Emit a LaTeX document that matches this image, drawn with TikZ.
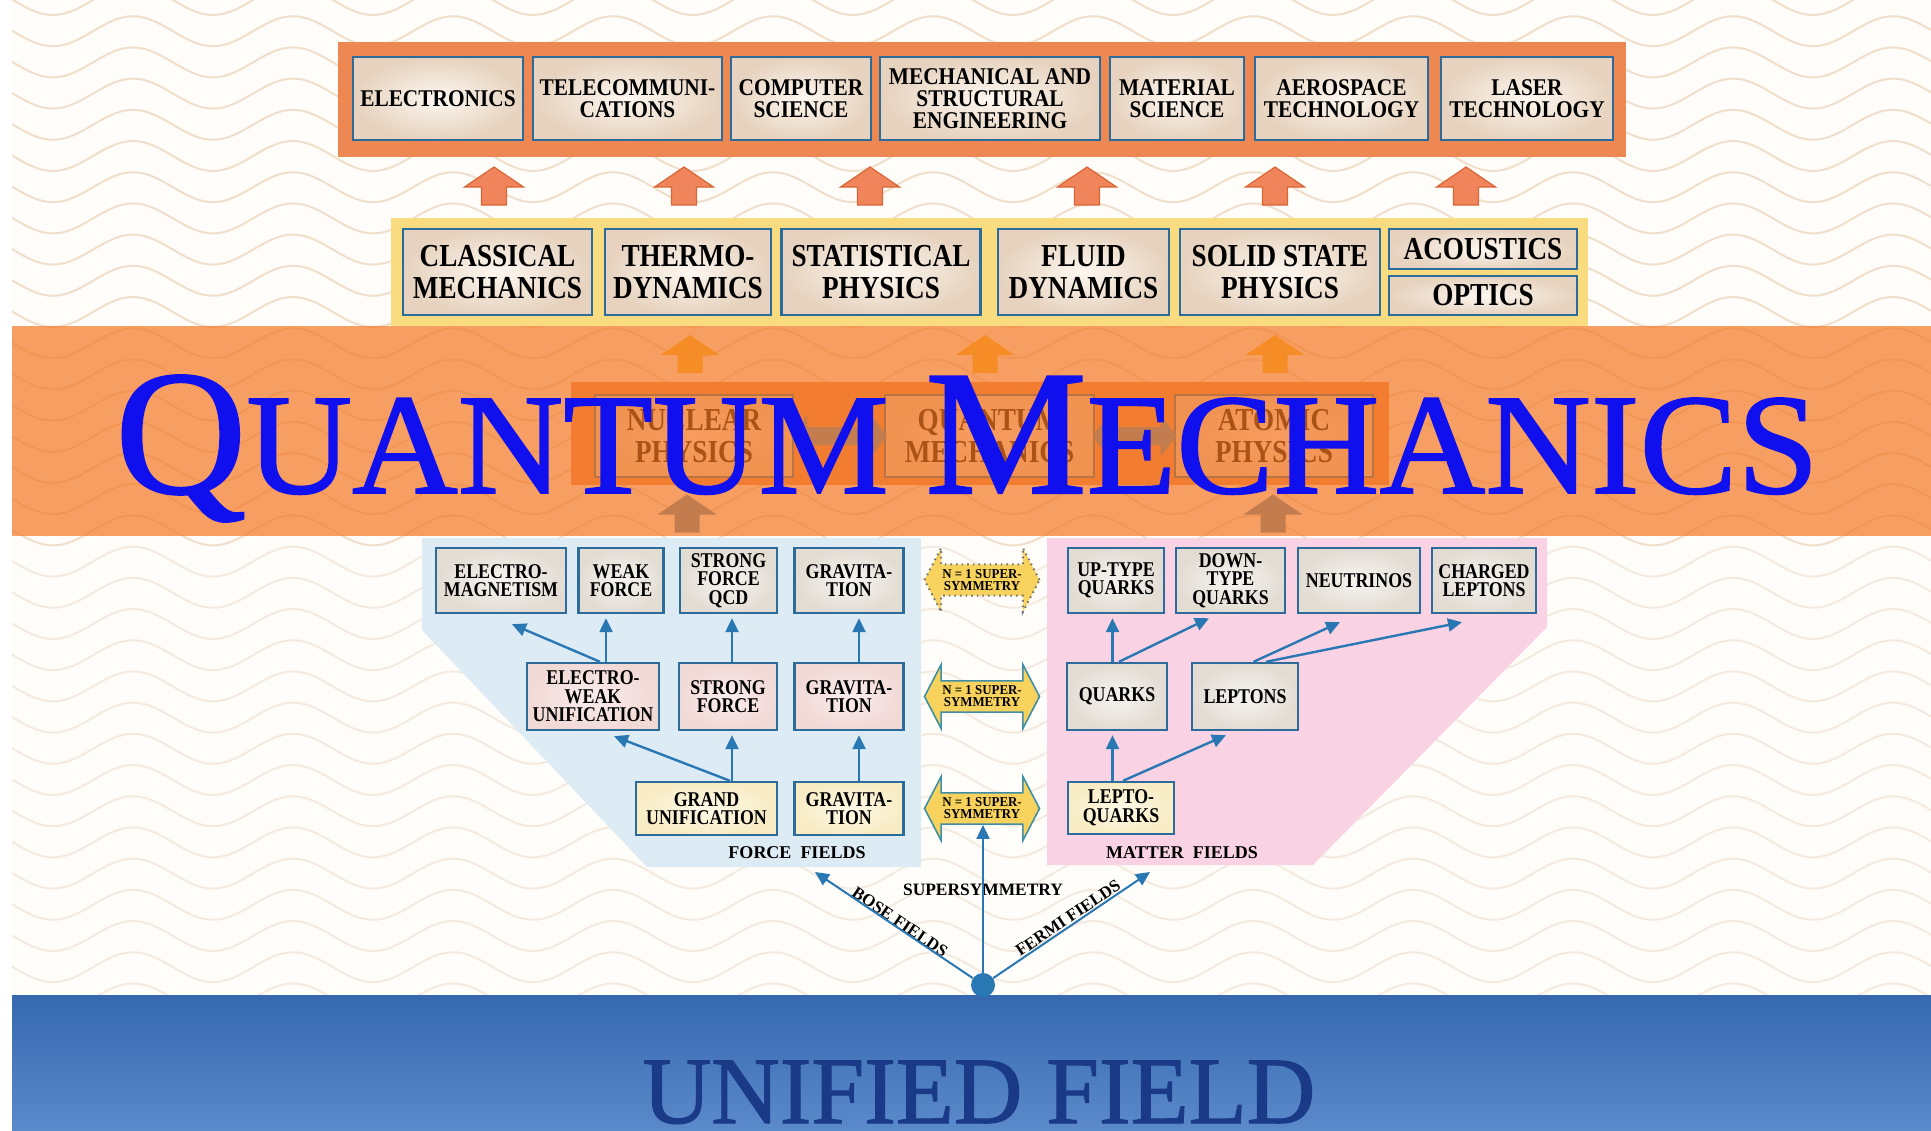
\documentclass[tikz,border=0pt]{standalone}
\usepackage{fontspec}
\setmainfont{Liberation Serif}
\newfontfamily\labA[FakeStretch=0.89]{Liberation Serif}
\newfontfamily\labB[FakeStretch=0.85]{Liberation Serif}
\newfontfamily\labS[FakeStretch=0.95]{Liberation Serif}
\newfontfamily\titlefont[FakeBold=1.2]{Liberation Serif}
\usetikzlibrary{shapes.arrows,arrows.meta,calc}

\definecolor{bgcol}{HTML}{FFFDFA}
\definecolor{wavecol}{HTML}{EFDFCB}
\definecolor{wavelight}{HTML}{F4EADF}
\definecolor{topor}{HTML}{EE8853}
\definecolor{upfill}{HTML}{F0845A}
\definecolor{upline}{HTML}{D86636}
\definecolor{yelframe}{HTML}{F9DC80}
\definecolor{boxline}{HTML}{2C6B9A}
\definecolor{boxin}{HTML}{FDF7F0}
\definecolor{boxout}{HTML}{E6D2BE}
\definecolor{forcereg}{HTML}{DDEBF5}
\definecolor{matterreg}{HTML}{F9D3E3}
\definecolor{rowpinkin}{HTML}{FAEDEC}
\definecolor{rowpinkout}{HTML}{F1D9D6}
\definecolor{rowyelin}{HTML}{FEF9E8}
\definecolor{rowyelout}{HTML}{F8ECC4}
\definecolor{rowgrayin}{HTML}{F7F4F0}
\definecolor{rowgrayout}{HTML}{E2DCD3}
\definecolor{arrblue}{HTML}{2A78B3}
\definecolor{susyfill}{HTML}{F7D35E}
\definecolor{susyline}{HTML}{3F8FA6}
\definecolor{bandcol}{HTML}{F57722}
\definecolor{titleblue}{HTML}{1010EE}
\definecolor{bandtop}{HTML}{3668B0}
\definecolor{bandbot}{HTML}{5A8ACA}
\definecolor{unifcol}{HTML}{1A3A88}
\definecolor{hidarrow}{HTML}{F5C030}
\definecolor{hidblock}{HTML}{4F88B5}

\tikzset{
  sz/.style 2 args={minimum width=#1*0.5pt, minimum height=#2*0.5pt},
  box/.style={draw=boxline, line width=1.2pt, inner sep=0pt, align=center, text=black},
  beige/.style={inner color=boxin, outer color=boxout},
  pinkb/.style={inner color=rowpinkin, outer color=rowpinkout},
  yelb/.style={inner color=rowyelin, outer color=rowyelout},
  grayb/.style={inner color=rowgrayin, outer color=rowgrayout},
  ftop/.style={font=\labA\bfseries\fontsize{12}{11}\selectfont},
  fmid/.style={font=\labB\bfseries\fontsize{16}{15.8}\selectfont},
  flow/.style={font=\labB\bfseries\fontsize{10.5}{9.3}\selectfont},
  blockup/.pic={\path[pic actions] (0,-19) -- (29.5,1) -- (12.5,1) -- (12.5,19)
     -- (-12.5,19) -- (-12.5,1) -- (-29.5,1) -- cycle;},
  uparrow/.style={fill=upfill, draw=upline, line width=0.6pt},
  blockdbl/.pic={\path[pic actions] (-#1,0) -- (-#1+16,-21) -- (-#1+16,-9) -- (#1-16,-9)
     -- (#1-16,-21) -- (#1,0) -- (#1-16,21) -- (#1-16,9) -- (-#1+16,9) -- (-#1+16,21) -- cycle;},
  susy/.style={double arrow, fill=susyfill, draw=susyline, line width=0.8pt,
    minimum height=57.5pt, minimum width=32pt, double arrow head extend=6pt,
    double arrow tip angle=125, inner sep=0pt, align=center,
    font=\labS\bfseries\fontsize{6.8}{6}\selectfont},
  barrow/.style={draw=arrblue, line width=1.2pt, -{Triangle[length=7pt,width=6.5pt]}},
  lbl/.style={font=\bfseries\fontsize{9}{9}\selectfont, inner sep=0pt},
}

\begin{document}
\begin{tikzpicture}[x=0.5pt, y=-0.5pt]
\useasboundingbox (0,0) rectangle (1931,1130);
\fill[white] (0,0) rectangle (1931,1130);
\fill[bgcol] (12,0) rectangle (1931,995);

% wavy background
\begin{scope}
\clip (12,0) rectangle (1931,995);
\foreach \k in {0,...,32} {
  \pgfmathsetmacro\yy{31.2*\k}
  \ifdim\yy pt<560pt \def\wc{wavecol}\else\def\wc{wavelight}\fi
  \draw[\wc, line width=1pt] plot[domain=12:1931, samples=320] (\x, {\yy - 15*cos((\x-133)*2.25)});
}
\end{scope}

% top frame and applications
\fill[topor] (338,42) rectangle (1626,157);
\node[box,beige,ftop,sz={170}{83}] (elec) at (438,98.5) {ELECTRONICS};
\node[box,beige,ftop,sz={189}{83}] (tele) at (627.5,98.5) {TELECOMMUNI-\\CATIONS};
\node[box,beige,ftop,sz={139.5}{83}] (comp) at (801,98.5) {COMPUTER\\SCIENCE};
\node[box,beige,ftop,sz={220}{83}] (mech) at (990,98.5) {MECHANICAL AND\\STRUCTURAL\\ENGINEERING};
\node[box,beige,ftop,sz={134}{83}] (matl) at (1177,98.5) {MATERIAL\\SCIENCE};
\node[box,beige,ftop,sz={173}{83}] (aero) at (1341.5,98.5) {AEROSPACE\\TECHNOLOGY};
\node[box,beige,ftop,sz={172}{83}] (laser) at (1527,98.5) {LASER\\TECHNOLOGY};

% orange up arrows
\pic[uparrow] (ua1) at (494,186) {blockup};
\pic[uparrow] (ua2) at (684,186) {blockup};
\pic[uparrow] (ua3) at (870,186) {blockup};
\pic[uparrow] (ua4) at (1087,186) {blockup};
\pic[uparrow] (ua5) at (1275,186) {blockup};
\pic[uparrow] (ua6) at (1466,186) {blockup};

% yellow frame and classical physics
\fill[yelframe] (391,218) rectangle (1588,326);
\node[box,beige,fmid,sz={189}{86}] (clas) at (497.5,272) {CLASSICAL\\MECHANICS};
\node[box,beige,fmid,sz={165.5}{86}] (thermo) at (688,272) {THERMO-\\DYNAMICS};
\node[box,beige,fmid,sz={199}{86}] (stat) at (881,272) {STATISTICAL\\PHYSICS};
\node[box,beige,fmid,sz={171}{86}] (fluid) at (1083.5,272) {FLUID\\DYNAMICS};
\node[box,beige,fmid,sz={199.5}{86}] (solid) at (1280,272) {SOLID STATE\\PHYSICS};
\node[box,beige,fmid,sz={188}{40}] (acou) at (1483,249) {ACOUSTICS};
\node[box,beige,fmid,sz={188}{39}] (opt) at (1483,295.5) {OPTICS};

% elements under the quantum mechanics band
\pic[fill=hidarrow] (ha1) at (690,354) {blockup};
\pic[fill=hidarrow] (ha2) at (985,354) {blockup};
\pic[fill=hidarrow] (ha3) at (1275,354) {blockup};
\fill[topor] (571,382) rectangle (1389,485);
\node[box,beige,fmid,sz={198}{82}] (nuc) at (694,436) {NUCLEAR\\PHYSICS};
\node[box,beige,fmid,sz={209}{82}] (qm) at (989.5,436) {QUANTUM\\MECHANICS};
\node[box,beige,fmid,sz={198}{82}] (atom) at (1274,436) {ATOMIC\\PHYSICS};
\pic[fill=hidblock] (d1) at (839,436) {blockdbl=48};
\pic[fill=hidblock] (d2) at (1134.5,436) {blockdbl=42};
\pic[fill=hidblock] (hb1) at (687,513.5) {blockup};
\pic[fill=hidblock] (hb2) at (1273,513.5) {blockup};

% regions
\fill[forcereg] (422,538) -- (921,538) -- (921,867) -- (647,867) -- (422,630) -- cycle;
\fill[matterreg] (1047,538) -- (1547,538) -- (1547,627) -- (1313,865) -- (1047,865) -- cycle;

% force fields
\node[box,grayb,flow,sz={130}{65}] (em) at (501,580.5) {ELECTRO-\\MAGNETISM};
\node[box,grayb,flow,sz={85}{65}] (wf) at (621,580.5) {WEAK\\FORCE};
\node[box,grayb,flow,sz={97}{65}] (qcd) at (728.5,580.5) {STRONG\\FORCE\\QCD};
\node[box,grayb,flow,sz={109}{65}] (g1) at (849,580.5) {GRAVITA-\\TION};
\node[box,pinkb,flow,sz={132}{67}] (ew) at (593,696.5) {ELECTRO-\\WEAK\\UNIFICATION};
\node[box,pinkb,flow,sz={98}{67}] (sf) at (728,696.5) {STRONG\\FORCE};
\node[box,pinkb,flow,sz={109}{67}] (g2) at (849,696.5) {GRAVITA-\\TION};
\node[box,yelb,flow,sz={141}{53}] (gu) at (706.5,808.5) {GRAND\\UNIFICATION};
\node[box,yelb,flow,sz={109}{53}] (g3) at (849,808.5) {GRAVITA-\\TION};

\draw[barrow] ([xshift=3.5pt]ew.north) -- ($(em.south)+(11,10)$);
\draw[barrow] ([xshift=6.5pt]ew.north) -- ($(wf.south)+(-15,4)$);
\draw[barrow] ($(sf.north)+(4,0)$) -- ($(qcd.south)+(3.5,4)$);
\draw[barrow] ($(g2.north)+(10,0)$) -- ($(g1.south)+(10,4)$);
\draw[barrow] ($(gu.north)+(25.5,0)$) -- ($(sf.south)+(4,4)$);
\draw[barrow] ($(gu.north)+(23.5,0)$) -- ($(ew.south)+(21,5)$);
\draw[barrow] ($(g3.north)+(10,0)$) -- ($(g2.south)+(10,4)$);

% matter fields
\node[box,grayb,flow,sz={96.5}{65}] (up) at (1116,580.5) {UP-TYPE\\QUARKS};
\node[box,grayb,flow,sz={109}{65}] (down) at (1230.5,580.5) {DOWN-\\TYPE\\QUARKS};
\node[box,grayb,flow,sz={122}{65}] (neu) at (1359,580.5) {NEUTRINOS};
\node[box,grayb,flow,sz={104}{65}] (chl) at (1484,580.5) {CHARGED\\LEPTONS};
\node[box,grayb,flow,sz={99.5}{67}] (qk) at (1117,696.5) {QUARKS};
\node[box,grayb,flow,sz={105.5}{67}] (lep) at (1245,696.5) {LEPTONS};
\node[box,yelb,flow,sz={106.5}{52}] (lq) at (1121,808) {LEPTO-\\QUARKS};

\draw[barrow] ($(qk.north)+(-4.5,0)$) -- ($(up.south)+(-3.5,4)$);
\draw[barrow] ($(qk.north)+(2,0)$) -- ($(down.south)+(-21.5,4)$);
\draw[barrow] ($(lep.north)+(8.5,0)$) -- ($(neu.south)+(-19,8)$);
\draw[barrow] ($(lep.north)+(21,0)$) -- ($(chl.south)+(-22,8)$);
\draw[barrow] ($(lq.north)+(-8.5,0)$) -- ($(qk.south)+(-4.5,4)$);
\draw[barrow] ($(lq.north)+(2,0)$) -- ($(lep.south)+(-19,4)$);

% supersymmetry arrows
\node[susy, draw=black!55, dotted, line width=1pt] (s1) at (982,580) {N = 1 SUPER-\\SYMMETRY};
\node[susy] (s2) at (982,696.5) {N = 1 SUPER-\\SYMMETRY};
\node[susy] (s3) at (982,808.5) {N = 1 SUPER-\\SYMMETRY};

\node[lbl] (ffl) at (797,853) {FORCE\ \ FIELDS};
\node[lbl] (mfl) at (1182,853) {MATTER\ \ FIELDS};
\node[lbl, font=\bfseries\fontsize{8.7}{9}\selectfont] (susyl) at (983,890) {SUPERSYMMETRY};
\node[lbl, rotate=-34, font=\bfseries\fontsize{8.5}{9}\selectfont] (bosel) at (900,922) {BOSE FIELDS};
\node[lbl, rotate=34, font=\bfseries\fontsize{8.5}{9}\selectfont] (fermil) at (1068,918) {FERMI FIELDS};

% quantum mechanics band
\fill[bandcol, opacity=0.7] (12,326) rectangle (1931,536);
\node[anchor=base, text=titleblue, inner sep=0pt, xscale=1.02] (title) at (967,493)
  {\titlefont{\fontsize{89}{89}\selectfont Q}{\fontsize{71.75}{72}\selectfont UANTUM }{\fontsize{89}{89}\selectfont M}{\fontsize{71.75}{72}\selectfont ECHANICS}};

% unified field
\shade[top color=bandtop, bottom color=bandbot] (12,995) rectangle (1931,1130);
\node[anchor=base, text=unifcol, inner sep=0pt, font=\titlefont\fontsize{47.5}{48}\selectfont] (unif) at (979,1123) {UNIFIED FIELD};

\node[circle, fill=arrblue, inner sep=0pt, minimum size=12pt] (root) at (983,985) {};
\coordinate (bosetip) at (815,872);
\coordinate (fermitip) at (1150,872);
\draw[barrow, line width=1pt] (root) -- (root |- s3.south);
\draw[barrow, line width=1pt] (root) -- (bosetip);
\draw[barrow, line width=1pt] (root) -- (fermitip);
\end{tikzpicture}
\end{document}
